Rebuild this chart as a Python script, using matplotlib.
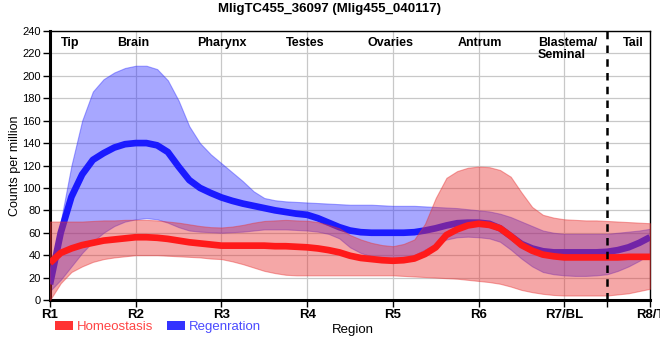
import matplotlib
matplotlib.use("Agg")
import matplotlib.pyplot as plt
from matplotlib.patches import Patch

pos = [1 + i / 8 for i in range(57)]

regen_mean = [14, 60, 92, 112, 125, 131, 136, 139, 140, 140, 138, 132, 119,
              107, 100, 95.5, 91.5,
              88.5, 86, 84, 82, 80, 78.5, 77, 76, 73, 69, 65, 62, 60.5, 60,
              60, 60,
              60, 60.5, 62, 64, 66.5, 68.5, 69, 69, 68, 64, 57, 50, 46, 43.5,
              42.5, 42.5,
              42.5, 42.5, 42.5, 43, 44.5, 47, 51, 56]
regen_upper = [18, 70, 120, 160, 186, 197, 203, 207, 209, 209, 206, 196, 178,
               155, 140, 130, 122,
               114, 106, 97, 91, 89, 88, 87.5, 87, 86.5, 86, 85.5, 85, 85, 85,
               84.5, 84,
               84, 84, 83.5, 83, 82.5, 82, 81, 80, 79, 77, 74, 70, 66, 62, 60,
               59,
               59, 59, 59, 59, 60, 61, 62, 63.5]
regen_lower = [8, 18, 30, 42, 52, 60, 66, 70, 72, 73, 72, 69, 65, 62, 61,
               60.5, 60,
               60.5, 61, 62, 63, 63, 63, 62.5, 62, 61, 59, 55, 47, 42, 39, 37,
               36,
               37, 40, 45, 50, 54, 56, 56.5, 56, 55, 52, 45, 37, 30, 25, 23,
               22,
               21.5, 21.5, 22, 23, 26, 30, 35, 41]

homeo_mean = [33, 42, 46, 49, 51, 53, 54, 55, 56, 56, 55.5, 54.5, 53, 51.5,
              50.5, 49.5, 48.5,
              48.5, 48.5, 48.5, 48.5, 48, 48, 47.5, 47, 46, 44.5, 42.5, 39.5,
              37.5, 36.5, 35.5, 35,
              35.5, 37, 41, 47, 58, 63, 66.5, 68, 67, 64, 57, 49, 44, 40.5,
              39, 38,
              38, 38, 38, 38, 38, 38.5, 38.5, 38.5]
homeo_upper = [70, 70, 70, 70, 70.5, 71, 71, 71.5, 71.5, 71.5, 71, 70, 69,
               67.5, 66, 65, 64.7,
               65.5, 67, 69, 70.5, 71, 71.5, 71, 70.7, 69.5, 67, 64, 58, 54,
               51, 49, 48,
               50, 54, 68, 91, 109, 115, 118, 119, 118.5, 116, 110, 96, 83,
               76, 73.5, 72,
               71.5, 71, 71, 70.5, 70, 69.5, 69, 68.5]
homeo_lower = [0, 15, 25, 30, 34, 36.5, 38, 39, 40, 40, 40, 39.5, 39, 38.5,
               38, 37, 36.5,
               34.5, 32, 29, 26, 24, 22.5, 22, 22, 22, 22, 22, 22, 22, 22, 22,
               22,
               21.5, 21, 20.5, 20, 19.5, 19, 18, 17, 16, 14.5, 12, 9, 7, 5.5,
               4.5, 4,
               4, 4, 4, 4, 5, 6, 8, 10]

tick_labels = ["R1", "R2", "R3", "R4", "R5", "R6", "R7/BL", "R8/T"]
regions = ["Tip", "Brain", "Pharynx", "Testes", "Ovaries", "Antrum",
           "Blastema/\nSeminal", "Tail"]
region_x = [1.24, 1.97, 3.0, 3.98, 4.97, 6.02, 6.69, 7.8]
region_ha = ["center"] * 6 + ["left", "center"]

narrow = ["Liberation Sans Narrow", "Liberation Sans", "DejaVu Sans"]
arial = ["Liberation Sans", "DejaVu Sans"]

fig = plt.figure(figsize=(6.6, 3.6), dpi=100)
ax = fig.add_axes([50 / 660, 1 - 300 / 360, 600 / 660, 269 / 360])

# bands and lines: blue first, red drawn over it
ax.fill_between(pos, regen_lower, regen_upper, color="#3333ff", alpha=0.43,
                linewidth=0.8, edgecolor="#3333ff", zorder=2)
ax.plot(pos, regen_mean, color="#1a1aff", linewidth=4.8,
        solid_joinstyle="round", solid_capstyle="butt", zorder=3)
ax.fill_between(pos, homeo_lower, homeo_upper, color="#e83333", alpha=0.43,
                linewidth=0.8, edgecolor="#e83333", zorder=4)
ax.plot(pos, homeo_mean, color="#ff1a1a", linewidth=4.8,
        solid_joinstyle="round", solid_capstyle="butt", zorder=5)

ax.axvline(7.5, color="black", linestyle=(0, (3, 2.5)), linewidth=1.8,
           zorder=6)

ax.set_xlim(1, 8)
ax.set_ylim(0, 240)
ax.set_xticks(range(1, 9))
ax.set_xticklabels(tick_labels, fontfamily=narrow, fontweight="bold",
                   fontsize=9.5)
ax.set_xticks([7.5], minor=True)
ax.set_yticks(range(0, 241, 20))
for lab in ax.get_yticklabels():
    lab.set_fontfamily(arial)
    lab.set_fontsize(8)
ax.tick_params(axis="both", which="both", direction="out", length=5,
               width=1, color="black", pad=1.5)
ax.grid(True, color="#c8c8c8", linewidth=0.9, zorder=0)
ax.set_axisbelow(True)

for side in ["top", "right"]:
    ax.spines[side].set_linewidth(1)
for side in ["left", "bottom"]:
    ax.spines[side].set_linewidth(2.2)

ax.set_ylabel("Counts per million", fontfamily=arial, fontsize=9, labelpad=1)

for name, x, ha in zip(regions, region_x, region_ha):
    ax.text(x, 235, name, ha=ha, va="top", fontfamily=arial,
            fontweight="bold", fontsize=9, linespacing=1.0, zorder=7)

fig.text(0.5, 1 - 9 / 360, "MligTC455_36097 (Mlig455_040117)", ha="center",
         va="center", fontfamily=narrow, fontweight="bold", fontsize=9.5)

fig.text(353 / 660, 1 - 330 / 360, "Region", ha="center", va="center",
         fontfamily=narrow, fontsize=9.5)

handles = [Patch(facecolor="#ff3333", edgecolor="none"),
           Patch(facecolor="#3333ff", edgecolor="none")]
fig.legend(handles, ["Homeostasis", "Regenration"], loc="center left",
           bbox_to_anchor=(43 / 660, 1 - 327 / 360), ncol=2, frameon=False,
           handlelength=1.4, handleheight=0.6, handletextpad=0.3,
           columnspacing=1.0, labelcolor=["#ff4444", "#4a4aff"],
           prop={"family": narrow, "size": 9.5})

fig.savefig("out.png", dpi=100)
